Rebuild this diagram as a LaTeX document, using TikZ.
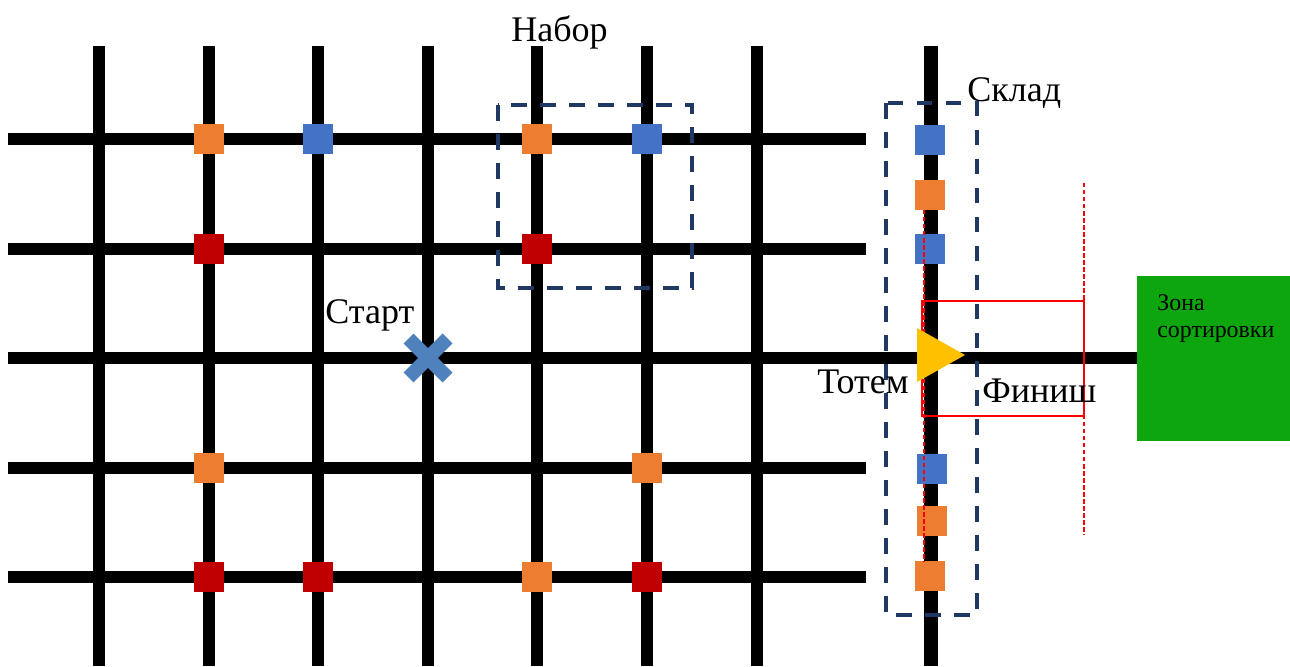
\documentclass[tikz,border=0pt]{standalone}
\usepackage{fontspec}
\setmainfont{Liberation Serif}
\definecolor{korange}{RGB}{237,125,49}
\definecolor{kblau}{RGB}{68,114,196}
\definecolor{krot}{RGB}{192,0,0}
\definecolor{knavy}{RGB}{31,56,100}
\definecolor{kstart}{RGB}{79,129,189}
\definecolor{kgelb}{RGB}{255,192,0}
\definecolor{kgruen}{RGB}{14,166,14}

\begin{document}
\begin{tikzpicture}[x=0.02cm,y=-0.02cm,font=\fontsize{20.5}{24}\selectfont]
\useasboundingbox (0,0) rectangle (1290,666);
% Gitter
\foreach \x in {99,209,318,428,537,647,757}{\draw[line width=6.5pt] (\x,46) -- (\x,666);}
\foreach \y in {139,249,468,577}{\draw[line width=6.5pt] (8,\y) -- (866,\y);}
\draw[line width=6.5pt] (8,358) -- (1137,358);
\draw[line width=8.5pt] (931,46) -- (931,666);
% Kubiken im Feld
\foreach \x/\y in {209/139,537/139,209/468,647/468,537/577}{\fill[korange] (\x-15,\y-15) rectangle ++(30,30);}
\foreach \x/\y in {318/139,647/139}{\fill[kblau] (\x-15,\y-15) rectangle ++(30,30);}
\foreach \x/\y in {209/249,537/249,209/577,318/577,647/577}{\fill[krot] (\x-15,\y-15) rectangle ++(30,30);}
% Kubiken im Lager
\foreach \x/\y in {930/140,930/249,932/469}{\fill[kblau] (\x-15,\y-15) rectangle ++(30,30);}
\foreach \x/\y in {930/195,932/521,930/576}{\fill[korange] (\x-15,\y-15) rectangle ++(30,30);}
% Zonen
\draw[knavy,line width=2.5pt,dash pattern=on 9pt off 7.5pt] (498,105) rectangle (692,288);
\draw[knavy,line width=2.5pt,dash pattern=on 9pt off 7.5pt] (886,103) rectangle (977,615);
\draw[red,line width=0.6pt] (922,301) rectangle (1084,416);
\draw[red,line width=0.7pt,dash pattern=on 2.5pt off 1.5pt] (924,210) -- (924,562);
\draw[red,line width=0.7pt,dash pattern=on 2.5pt off 1.5pt] (1084,183) -- (1084,535);
% Totem und Start
\fill[kgelb] (917,328) -- (965,355) -- (917,382) -- cycle;
\draw[kstart,line width=8pt] (428,358) +(-19.5,-19.5) -- +(19.5,19.5);
\draw[kstart,line width=8pt] (428,358) +(-19.5,19.5) -- +(19.5,-19.5);
\fill[kgruen] (1137,276) rectangle (1290,441);
% Beschriftung
\node[anchor=base west,inner sep=0] (nabor) at (511,41) {Набор};
\node[anchor=base west,inner sep=0] (sklad) at (967,101) {Склад};
\node[anchor=base west,inner sep=0] (start) at (325,323) {Старт};
\node[anchor=base west,inner sep=0] (totem) at (817,393) {Тотем};
\node[anchor=base west,inner sep=0] (finish) at (982,402) {Финиш};
\node[anchor=base west,inner sep=0,align=left,font=\fontsize{13.6}{15.3}\selectfont] (sort) at (1157,337) {Зона\\сортировки};
\end{tikzpicture}
\end{document}
